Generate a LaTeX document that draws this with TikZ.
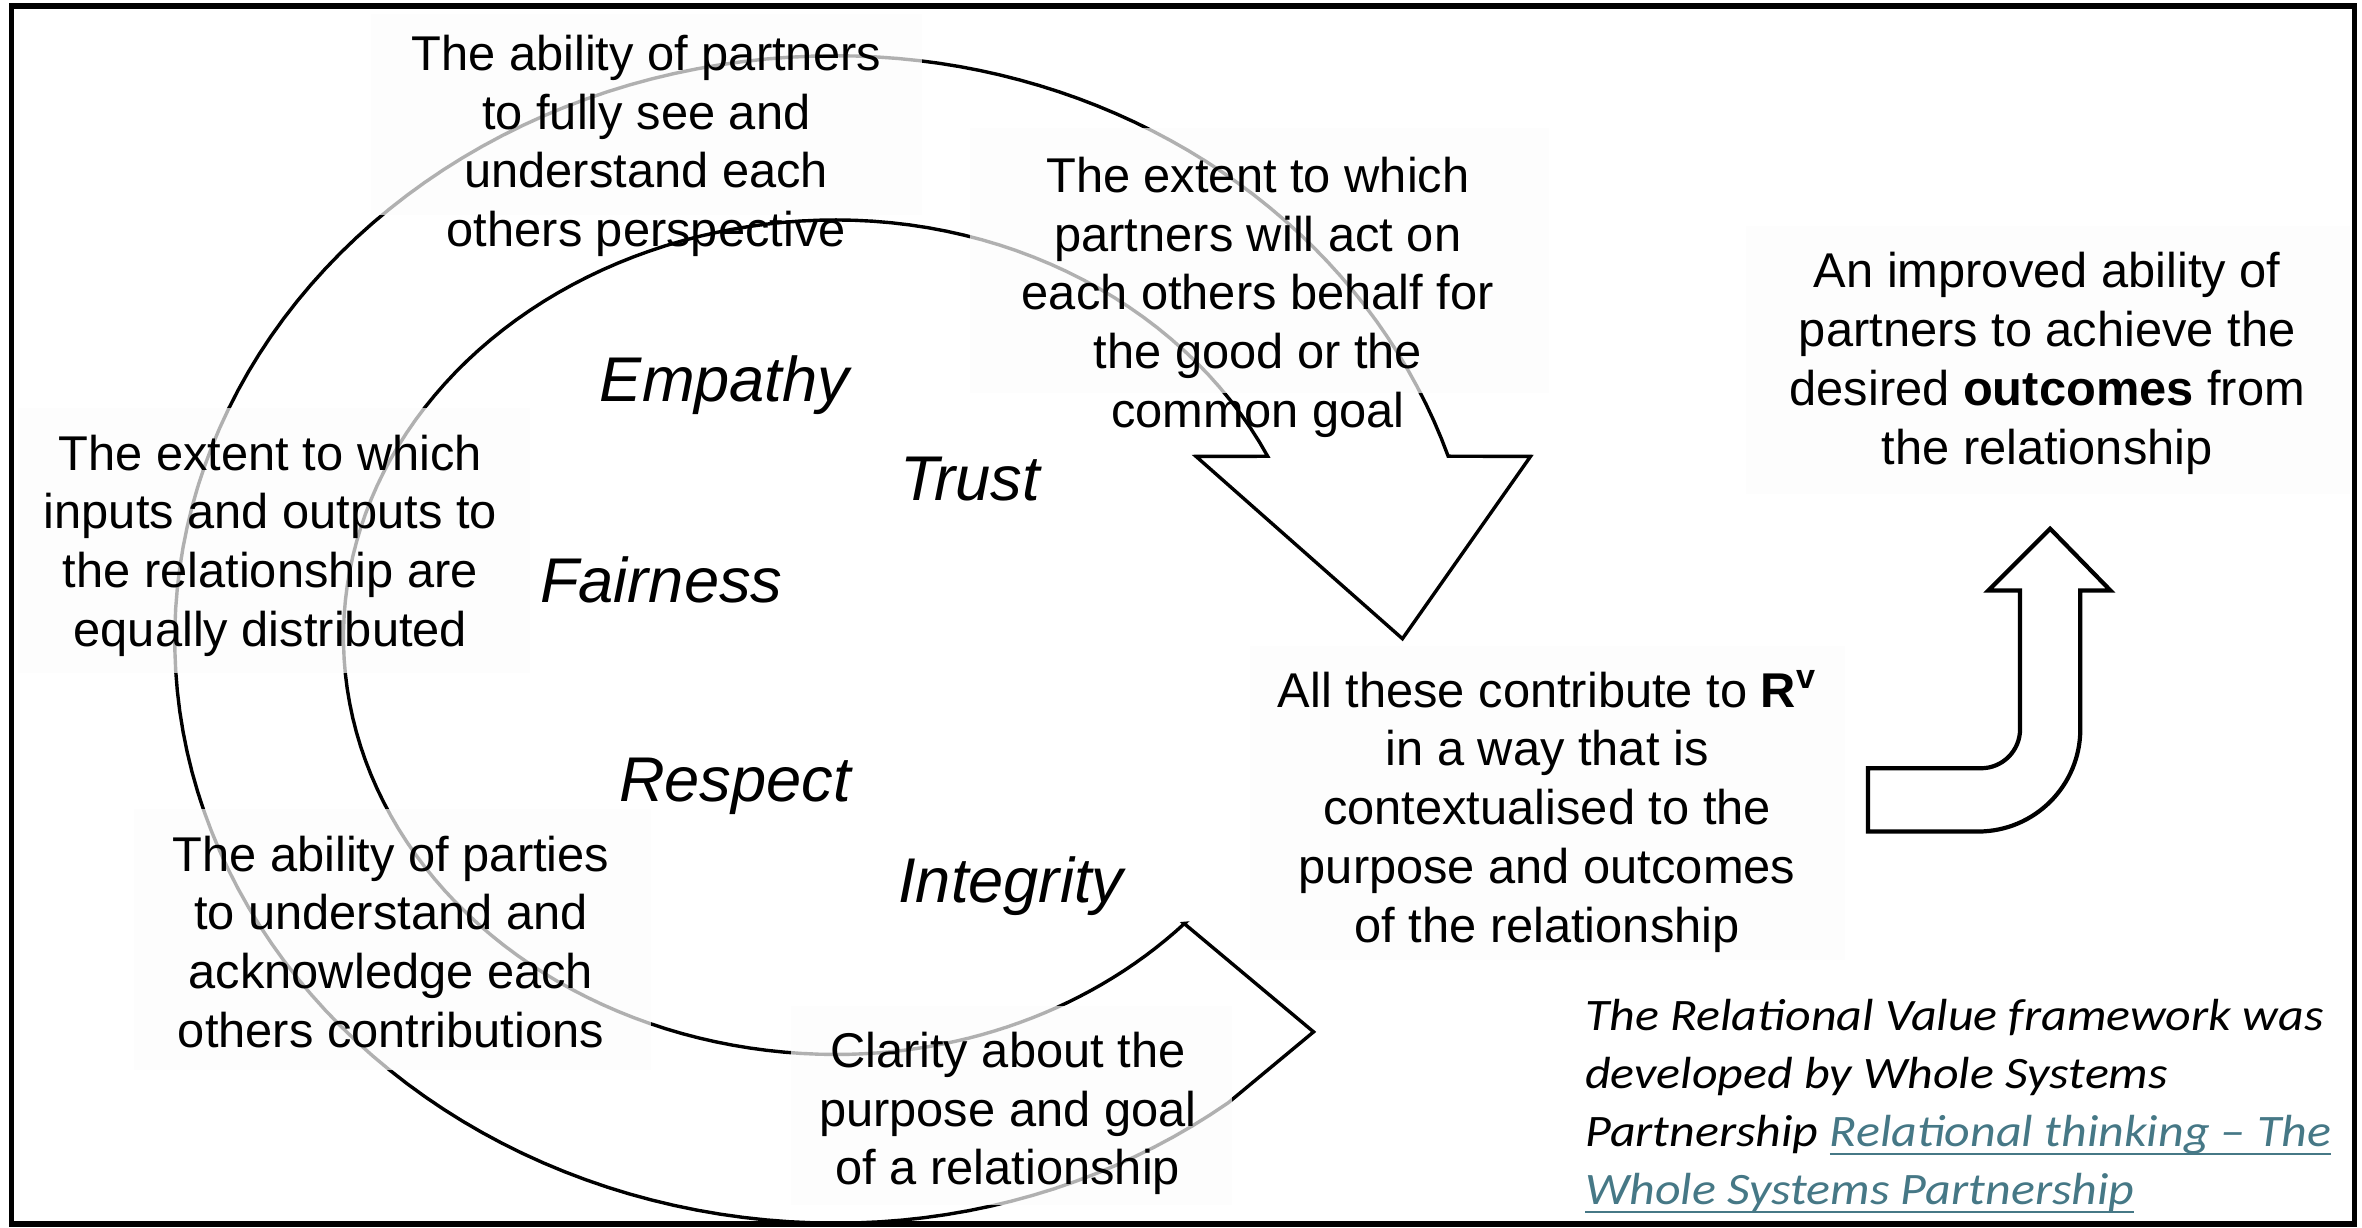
\documentclass[tikz,border=0pt]{standalone}
\usepackage{fontspec}
\setmainfont{Liberation Sans}
\newfontfamily\creditfont[FakeStretch=1.11]{Carlito}
\definecolor{linkteal}{HTML}{467886}
% underlined hyperlink-style text
\newcommand\weblink[1]{\textcolor{linkteal}{\setbox0\hbox{#1}\rlap{\rule[-0.2em]{\wd0}{0.06em}}\box0}}

\begin{document}
\begin{tikzpicture}[x=0.753pt, y=-0.753pt,
  band/.style={line width=1.7pt, line join=miter},
  bent/.style={line width=2.1pt, line join=miter},
  pane/.style={fill=white!99!black, fill opacity=0.7},
  blurb/.style={font=\fontsize{24.4}{29.4}\selectfont, align=center, inner sep=0pt},
  quality/.style={font=\fontsize{31.6}{38}\selectfont\itshape, inner sep=0pt},
  credit/.style={font=\creditfont\itshape\fontsize{22.5}{29}\selectfont, align=left, inner sep=0pt},
  frame/.style={line width=2.6pt}]

\useasboundingbox (0,0) rectangle (1568,815);

% spiral band: outer edge, lower tip, inner edge, big arrowhead
\draw[band]
  plot[domain=-18.3:-90, samples=40, variable=\t] ({555+428*cos(\t)},{424.5+387.5*sin(\t)})
  -- plot[domain=-90:-270, samples=90, variable=\t] ({555+439*cos(\t)},{424.5+387.5*sin(\t)})
  -- plot[domain=-270:-307.5, samples=20, variable=\t] ({555+428*cos(\t)},{424.5+387.5*sin(\t)})
  -- (872,685) -- (786,613)
  -- plot[domain=43.3:90, samples=30, variable=\t] ({555+318*cos(\t)},{423+277*sin(\t)})
  -- plot[domain=90:270, samples=90, variable=\t] ({555+327*cos(\t)},{423+277*sin(\t)})
  -- plot[domain=270:334.3, samples=30, variable=\t] ({555+318*cos(\t)},{423+277*sin(\t)})
  -- (794,303) -- (931,424) -- (1016,303) -- cycle;

% bent arrow pointing up to the outcomes
\draw[bent] (1361,351) -- (1401,392) -- (1381,392) -- (1381,484)
  .. controls (1381,521.6) and (1350.6,552) .. (1313,552)
  -- (1240,552) -- (1240,510) -- (1315,510)
  .. controls (1329.4,510) and (1341,498.4) .. (1341,484)
  -- (1341,392) -- (1320,392) -- cycle;

% light panes behind the descriptions
\fill[pane] (246,9) rectangle (612,143);
\fill[pane] (644,85) rectangle (1028,261);
\fill[pane] (12,271) rectangle (352,447);
\fill[pane] (89,537) rectangle (432,710);
\fill[pane] (525,668) rectangle (818,800);
\fill[pane] (830,429) rectangle (1225,637);
\fill[pane] (1159,150) rectangle (1560,328);

% descriptions
\node[blurb] (seeing) at (429,96.8) {The ability of partners\\to fully see and\\understand each\\others perspective};
\node[blurb] (acting) at (835,197.3) {The extent to which\\partners will act on\\each others behalf for\\the good or the\\common goal};
\node[blurb] (sharing) at (179.5,362.3) {The extent to which\\inputs and outputs to\\the relationship are\\equally distributed};
\node[blurb] (valuing) at (259.5,625.3) {The ability of parties\\to understand and\\acknowledge each\\others contributions};
\node[blurb] (clarity) at (669,739.1) {Clarity about the\\purpose and goal\\of a relationship};
\node[blurb] (contribute) at (1027,538.8) {All these contribute to \textbf{R\textsuperscript{v}}\\in a way that is\\contextualised to the\\purpose and outcomes\\of the relationship};
\node[blurb] (outcomes) at (1359,241.3) {An improved ability of\\partners to achieve the\\desired \textbf{outcomes} from\\the relationship};

% the five qualities
\node[quality] (empathy) at (481,256) {Empathy};
\node[quality] (trust) at (644,318) {Trust};
\node[quality] (fairness) at (439,385) {Fairness};
\node[quality] (respect) at (488,522) {Respect};
\node[quality] (integrity) at (671,588) {Integrity};

% attribution
\node[credit, anchor=north west] (credit) at (1052,663) {The Relational Value framework was\\developed by Whole Systems\\Partnership \weblink{Relational thinking – The}\\\weblink{Whole Systems Partnership}};

\draw[frame] (7.7,4) rectangle (1563,812.5);
\end{tikzpicture}
\end{document}
